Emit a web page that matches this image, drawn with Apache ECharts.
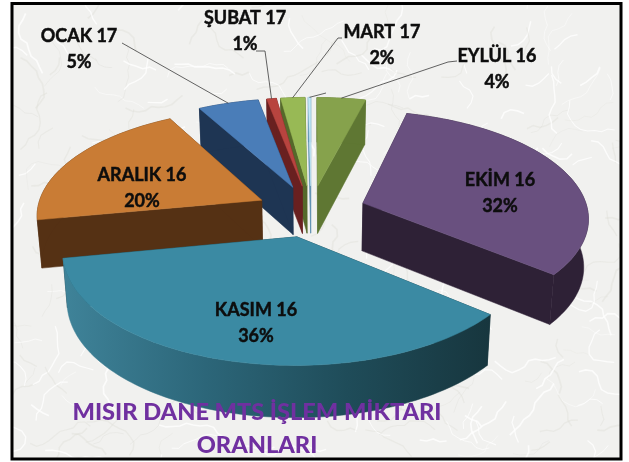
<!DOCTYPE html>
<html>
<head>
<meta charset="utf-8">
<style>html,body{margin:0;padding:0;background:#fff}#c{width:629px;height:462px}</style>
<script src="https://cdn.jsdelivr.net/npm/echarts@6/dist/echarts.min.js"></script>
</head>
<body>
<div id="c"></div>
<script>
// Data, clockwise from north. The last slice is an unlabelled sliver in the picture.
const categories = ['EYLÜL 16', 'EKİM 16', 'KASIM 16', 'ARALIK 16', 'OCAK 17', 'ŞUBAT 17', 'MART 17', ''];
const values = [4, 32, 36, 20, 5, 0.8, 2, 0.2];
const percentLabels = ['4%', '32%', '36%', '20%', '5%', '1%', '2%', ''];
const titleLines = ['MISIR DANE MTS İŞLEM MİKTARI', 'ORANLARI'];

// Styles
const topColors = ['#86a24c', '#69507f', '#3b8aa3', '#c97c35', '#4a7db8', '#b8443f', '#98b955', '#c4e8f6'];
const wallColors = ['#5f7733', '#2e2136', null, '#553114', '#1e3553', '#692020', '#55692a', '#5b8fb0'];
const kasimWall = ['#3f8399', '#2c6679', '#1f4c59', '#17363e'];

// Layout
const drawOrder = [0, 7, 6, 5, 4, 3, 1, 2];
const view = { cx: 311, cy: 211, a: 225, b: 105.5, k: 0.125, explode: 0.245, depth: 48, shrink: 0.983 };
const labelAt = [[497, 69], [500, 193], [256, 323], [142, 188], [79, 49], [245, 31], [382, 45], null];
const leaderVia = [[[448, 62], [457, 61]], null, null, null, [[122, 43]], [[265, 51], [256, 51]], [[338, 38], [342, 38]], [[326, 93]]];

const total = values.reduce((s, v) => s + v, 0);
const spans = [];
values.reduce((acc, v) => { spans.push([acc, acc + v / total * 360]); return acc + v / total * 360; }, 0);
const rad = d => d * Math.PI / 180;

function project(i, theta, lower) {
  const mid = rad((spans[i][0] + spans[i][1]) / 2);
  const ou = Math.sin(mid) * view.explode, ov = Math.cos(mid) * view.explode;
  const u = (theta === null ? 0 : Math.sin(rad(theta))) + ou;
  const v = (theta === null ? 0 : Math.cos(rad(theta))) + ov;
  const w = 1 + view.k * v;
  let x = view.cx + view.a * u / w;
  let y = view.cy - view.b * v / w;
  if (lower) {
    x = view.cx + (x - view.cx) * view.shrink;
    y += view.depth / Math.sqrt(w);
  }
  return [x, y];
}
function arc(i, lower) {
  const pts = [], [s, e] = spans[i];
  const n = Math.max(2, Math.ceil((e - s) / 1.5));
  for (let t = 0; t <= n; t++) pts.push(project(i, s + (e - s) * t / n, lower));
  return pts;
}
function poly(points, fill) {
  return { type: 'polygon', shape: { points }, style: { fill, stroke: fill, lineWidth: 0.5 } };
}
function renderSlice(params, api) {
  const i = api.value(0);
  const top = arc(i, false), low = arc(i, true);
  const apexT = project(i, null, false), apexB = project(i, null, true);
  const wall = wallColors[i];
  const outerFill = wall || new echarts.graphic.LinearGradient(0, 0, 1, 0,
    kasimWall.map((c, n) => ({ offset: n / (kasimWall.length - 1), color: c })));
  const radialFill = wall || kasimWall[kasimWall.length - 1];
  return {
    type: 'group',
    children: [
      poly([apexT, top[0], low[0], apexB], radialFill),
      poly([apexT, top[top.length - 1], low[low.length - 1], apexB], radialFill),
      poly(top.concat(low.slice().reverse()), outerFill),
      poly([apexT].concat(top), topColors[i])
    ]
  };
}
function renderLabel(params, api) {
  const i = api.value(0);
  const children = [];
  const via = leaderVia[i];
  if (via) {
    const mid = (spans[i][0] + spans[i][1]) / 2;
    children.push({
      type: 'polyline',
      shape: { points: [project(i, mid, false)].concat(via) },
      style: { fill: null, stroke: '#3c3c3c', lineWidth: 0.8 }
    });
  }
  if (labelAt[i]) {
    children.push({
      type: 'text',
      style: {
        x: labelAt[i][0], y: labelAt[i][1],
        text: categories[i] + '\n' + percentLabels[i],
        align: 'center', verticalAlign: 'middle',
        font: 'bold 18px Lato', lineHeight: 26, fill: '#0d0d0d',
        stroke: '#0d0d0d', lineWidth: 0.45
      }
    });
  }
  return { type: 'group', children };
}

// Decorative marble paper behind the chart
function marble() {
  const c = document.createElement('canvas');
  c.width = 629; c.height = 462;
  const g = c.getContext('2d');
  g.fillStyle = '#f1f1ef';
  g.fillRect(0, 0, 629, 462);
  let s = 12345;
  const r = () => (s = (s * 16807) % 2147483647) / 2147483647;
  for (let n = 0; n < 320; n++) {
    let x = r() * 629, y = r() * 462, a = r() * 6.28;
    g.strokeStyle = n % 2 === 0 ? 'rgba(255,255,255,0.75)' : 'rgba(222,222,216,0.4)';
    g.lineWidth = 0.5 + r() * 1.3;
    g.beginPath(); g.moveTo(x, y);
    const steps = 3 + Math.floor(r() * 8);
    for (let t = 0; t < steps; t++) {
      a += (r() - 0.5) * 1.6;
      x += Math.cos(a) * 7; y += Math.sin(a) * 7;
      g.lineTo(x, y);
    }
    g.stroke();
  }
  return c;
}

const chart = echarts.init(document.getElementById('c'), null, { renderer: 'canvas' });
chart.setOption({
  animation: false,
  backgroundColor: '#fff',
  title: {
    text: titleLines.join('\n'),
    left: 252, top: 391, textAlign: 'center', z: 20,
    textStyle: { fontFamily: 'Lato', fontWeight: 900, fontSize: 23.6, lineHeight: 33, color: '#7030a0' }
  },
  graphic: [{
    type: 'rect', z: -10, silent: true,
    shape: { x: 12, y: 3.5, width: 609, height: 455.5 },
    style: { fill: { image: marble(), repeat: 'no-repeat' }, stroke: '#000', lineWidth: 3 }
  }],
  series: [
    { type: 'custom', coordinateSystem: 'none', silent: true, z: 5, renderItem: renderSlice,
      data: drawOrder.map(i => [i, values[i]]) },
    { type: 'custom', coordinateSystem: 'none', silent: true, z: 10, renderItem: renderLabel,
      data: categories.map((c, i) => [i, values[i]]) }
  ]
});
</script>
</body>
</html>
